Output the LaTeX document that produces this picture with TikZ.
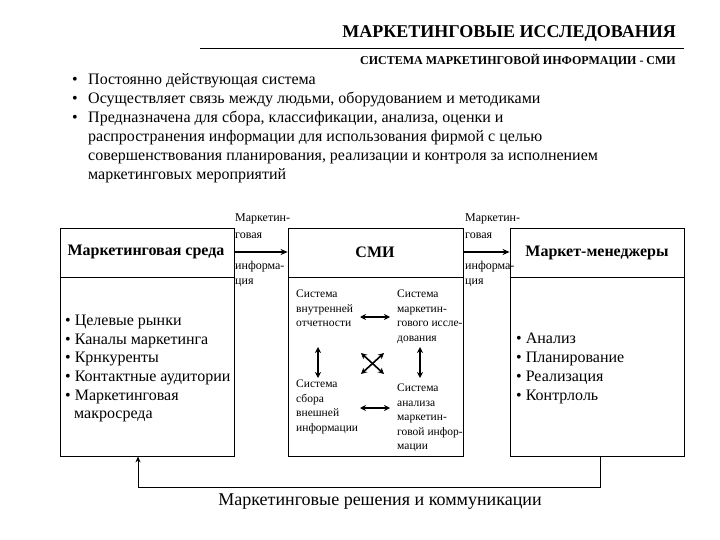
\documentclass[tikz,border=0pt]{standalone}
\usepackage{fontspec}
\setmainfont{Liberation Serif}
\usetikzlibrary{arrows.meta,calc}
\tikzset{
  box/.style={draw,line width=0.8pt,minimum width=174pt,minimum height=228pt,inner sep=0pt},
  txt/.style={inner sep=0pt,anchor=base west},
  small/.style={inner sep=0pt,anchor=north west,align=left,font=\fontsize{11.5}{14.5}\selectfont},
  lbl/.style={inner sep=0pt,anchor=base west,font=\fontsize{12}{14}\selectfont},
  arr/.style={line width=1.6pt,-{Stealth[length=7pt,width=6pt]}},
  darr/.style={line width=1.6pt,{Stealth[length=6pt,width=6pt]}-{Stealth[length=6pt,width=6pt]}},
  fb/.style={line width=1pt,-{Stealth[length=6pt,width=5pt]}},
}
\begin{document}
\begin{tikzpicture}[x=1pt,y=-1pt]
\useasboundingbox (0,0) rectangle (720,540);
% title
\node[inner sep=0pt,anchor=base east,font=\fontsize{18}{20}\selectfont\bfseries] (title) at (676,38) {МАРКЕТИНГОВЫЕ ИССЛЕДОВАНИЯ};
\draw[line width=0.8pt] (200,48) -- (684,48);
\node[inner sep=0pt,anchor=base east,font=\fontsize{12}{14}\selectfont\bfseries] (sub) at (676,65) {СИСТЕМА МАРКЕТИНГОВОЙ ИНФОРМАЦИИ - СМИ};
% bullets
\begin{scope}[every node/.style={txt,font=\fontsize{16}{19}\selectfont}]
\node at (72,85) {•};
\node at (72,104) {•};
\node at (72,123) {•};
\node (b1) at (88,85) {Постоянно действующая система};
\node (b2) at (88,104) {Осуществляет связь между людьми, оборудованием и методиками};
\node (b3) at (88,123) {Предназначена для сбора, классификации, анализа, оценки и};
\node (b4) at (88,142) {распространения  информации для использования фирмой с целью};
\node (b5) at (88,161) {совершенствования планирования, реализации и контроля за исполнением};
\node (b6) at (88,180) {маркетинговых  мероприятий};
\end{scope}
% boxes
\node[box] (L) at (147,342) {};
\node[box,minimum width=175pt] (M) at (375.5,342) {};
\node[box] (R) at (597,342) {};
\draw[line width=0.8pt] (L.west |- 0,277) -- (L.east |- 0,277);
\draw[line width=0.8pt] (M.west |- 0,277) -- (M.east |- 0,277);
\draw[line width=0.8pt] (R.west |- 0,277) -- (R.east |- 0,277);
% headers
\node[inner sep=0pt,font=\fontsize{16}{18}\selectfont\bfseries] (Lh) at (146,252) {Маркетинговая среда};
\node[inner sep=0pt,font=\fontsize{16}{20}\selectfont\bfseries] (Mh) at (375,252) {СМИ};
\node[inner sep=0pt,font=\fontsize{16}{18}\selectfont\bfseries] (Rh) at (597,253) {Маркет-менеджеры};
% arrows between boxes
\draw[arr] (Lh -| L.east) -- (Lh -| M.west);
\draw[arr] (Mh -| M.east) -- (Mh -| R.west);
\node[lbl] (l1) at (235,222) {Маркетин-};
\node[lbl] (l2) at (235,239) {говая};
\node[lbl] (l3) at (235,269) {информа-};
\node[lbl] (l4) at (235,284) {ция};
\node[lbl] (r1) at (465,222) {Маркетин-};
\node[lbl] (r2) at (465,239) {говая};
\node[lbl] (r3) at (465,269) {информа-};
\node[lbl] (r4) at (465,284) {ция};
% left box list
\begin{scope}[every node/.style={txt,font=\fontsize{16}{19}\selectfont}]
\node (e1) at (65,325) {• Целевые рынки};
\node (e2) at (65,344) {• Каналы маркетинга};
\node (e3) at (65,362) {• Крнкуренты};
\node (e4) at (65,381) {• Контактные аудитории};
\node (e5) at (65,400) {• Маркетинговая};
\node (e6) at (74,418) {макросреда};
\node (f1) at (516,343) {• Анализ};
\node (f2) at (516,362) {• Планирование};
\node (f3) at (516,381) {• Реализация};
\node (f4) at (516,400) {• Контрлоль};
\end{scope}
% inner systems
\node[small] (A) at (296,290) {Система\\внутренней\\отчетности};
\node[small] (B) at (397,290) {Система\\маркетин-\\гового иссле-\\дования};
\node[small] (C) at (296,380) {Система\\сбора\\внешней\\информации};
\node[small] (D) at (397,384) {Система\\анализа\\маркетин-\\говой инфор-\\мации};
\coordinate (a1) at (360,317); \coordinate (a2) at (390,317);
\coordinate (c1) at (360,408); \coordinate (c2) at (390,408);
\coordinate (v1) at (318,347); \coordinate (v2) at (318,378);
\coordinate (w1) at (420,347); \coordinate (w2) at (420,378);
\coordinate (x1) at (361,353); \coordinate (x2) at (384,374);
\coordinate (x3) at (361,374); \coordinate (x4) at (384,353);
\draw[darr] (a1) -- (a2);
\draw[darr] (c1) -- (c2);
\draw[darr] (v1) -- (v2);
\draw[darr] (w1) -- (w2);
\draw[darr] (x1) -- (x2);
\draw[darr] (x3) -- (x4);
% feedback
\draw[fb] ([xshift=3pt]R.south) -- ++(0,31) -| ([xshift=-9pt]L.south);
\node[inner sep=0pt,font=\fontsize{18}{20}\selectfont] (bot) at (380,502) {Маркетинговые решения и коммуникации};
\end{tikzpicture}
\end{document}
